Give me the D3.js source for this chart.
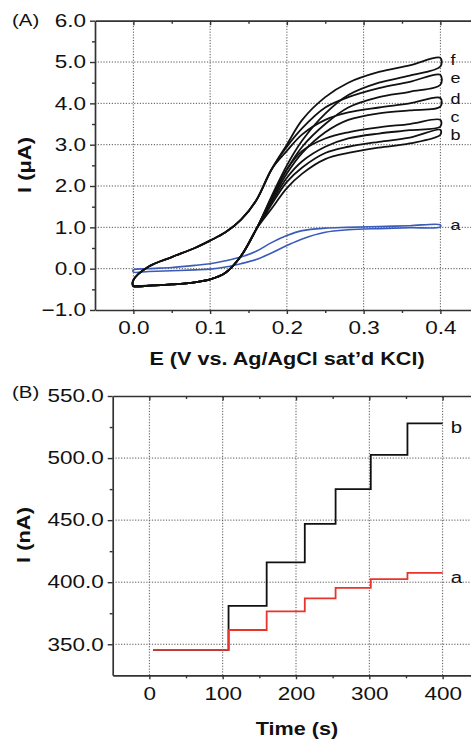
<!DOCTYPE html>
<html>
<head>
<meta charset="utf-8">
<script src="https://cdn.jsdelivr.net/npm/d3@7"></script>
<style>
  body { margin: 0; background: #fff; }
  svg { display: block; font-family: Arial, "Liberation Sans", sans-serif; }
</style>
</head>
<body>
<svg id="chart" width="471" height="740"></svg>
<script>
// ---- panel A : cyclic voltammograms ----
const potential = [0, 0.02, 0.05, 0.08, 0.10, 0.12, 0.14, 0.16, 0.18, 0.20, 0.22, 0.25, 0.28, 0.32, 0.36, 0.40];

const aUpper = [-0.03, 0.00, 0.03, 0.08, 0.12, 0.19, 0.28, 0.42, 0.63, 0.80, 0.92, 0.98, 1.00, 1.02, 1.04, 1.06];
const aLower = [-0.08, -0.07, -0.05, -0.03, -0.01, 0.04, 0.12, 0.22, 0.38, 0.56, 0.72, 0.88, 0.94, 0.97, 0.99, 1.01];
const bUpper = [-0.42, -0.41, -0.38, -0.33, -0.26, -0.10, 0.30, 0.95, 1.55, 2.10, 2.45, 2.80, 2.95, 3.07, 3.17, 3.36];
const bLower = [-0.42, -0.41, -0.38, -0.33, -0.26, -0.10, 0.30, 0.95, 1.45, 1.95, 2.30, 2.65, 2.80, 2.93, 3.03, 3.24];
const cUpper = [-0.42, -0.41, -0.38, -0.33, -0.26, -0.10, 0.30, 0.95, 1.70, 2.40, 2.85, 3.15, 3.30, 3.42, 3.50, 3.60];
const cLower = [-0.42, -0.41, -0.38, -0.33, -0.26, -0.10, 0.30, 0.95, 1.60, 2.20, 2.60, 2.95, 3.15, 3.27, 3.35, 3.44];
const dUpper = [-0.28, 0.05, 0.28, 0.50, 0.68, 0.88, 1.18, 1.65, 2.40, 2.85, 3.25, 3.60, 3.78, 3.90, 4.00, 4.13];
const dLower = [-0.42, -0.41, -0.38, -0.33, -0.26, -0.10, 0.30, 0.95, 1.65, 2.30, 2.80, 3.30, 3.60, 3.76, 3.83, 3.92];
const eUpper = [-0.28, 0.05, 0.28, 0.50, 0.68, 0.88, 1.18, 1.65, 2.40, 2.95, 3.40, 3.90, 4.15, 4.37, 4.52, 4.69];
const eLower = [-0.42, -0.41, -0.38, -0.33, -0.26, -0.10, 0.30, 0.95, 1.70, 2.40, 2.95, 3.50, 3.90, 4.15, 4.28, 4.45];
const fUpper = [-0.28, 0.05, 0.28, 0.50, 0.68, 0.88, 1.18, 1.65, 2.40, 3.00, 3.60, 4.15, 4.50, 4.76, 4.92, 5.10];
const fLower = [-0.42, -0.41, -0.38, -0.33, -0.26, -0.10, 0.30, 0.95, 1.75, 2.50, 3.10, 3.75, 4.20, 4.50, 4.67, 4.89];

const cvNames = ['a', 'b', 'c', 'd', 'e', 'f'];
const cvLabelY = [0.94, 3.12, 3.56, 3.98, 4.50, 4.92];

const xTicksA = [0, 0.1, 0.2, 0.3, 0.4];
const xMinorA = [0.05, 0.15, 0.25, 0.35];
const yTicksA = [-1, 0, 1, 2, 3, 4, 5, 6];
const yMinorA = [-0.5, 0.5, 1.5, 2.5, 3.5, 4.5, 5.5];

// ---- panel B : amperometric steps ----
const stepTimes = [5, 108, 160, 212, 254, 302, 352, 400];
const currentA = [345.5, 361.5, 376.5, 387, 395.5, 402.5, 407.5];
const currentB = [345.5, 381, 416, 447, 475, 502.5, 528];
const stepNames = ['a', 'b'];
const stepLabelY = [399, 520];

const xTicksB = [0, 100, 200, 300, 400];
const xMinorB = [50, 150, 250, 350];
const yTicksB = [350, 400, 450, 500, 550];
const yMinorB = [375, 425, 475, 525];

const svg = d3.select('#chart');

const xA = d3.scaleLinear().domain([-0.05, 0.45]).range([95, 478.75]);
const yA = d3.scaleLinear().domain([-1, 6]).range([310, 20.7]);
const xB = d3.scaleLinear().domain([-50, 450]).range([112.7, 479.3]);
const yB = d3.scaleLinear().domain([325, 550]).range([675.3, 396]);

function grid(g, x, y, xt, yt) {
  const [y0, y1] = y.range();
  const [x0, x1] = x.range();
  g.selectAll('.vg').data(xt).join('line')
    .attr('x1', d => x(d)).attr('x2', d => x(d))
    .attr('y1', y0).attr('y2', y1);
  g.selectAll('.hg').data(yt).join('line')
    .attr('x1', x0).attr('x2', x1)
    .attr('y1', d => y(d)).attr('y2', d => y(d));
  g.selectAll('line')
    .attr('stroke', '#555').attr('stroke-width', 1)
    .attr('stroke-dasharray', '1.2,1.6');
}

function styleAxis(g) {
  g.attr('font-family', null).attr('font-size', null);
  g.select('.domain').attr('stroke', '#333').attr('stroke-width', 1.7);
  g.selectAll('.tick line').attr('stroke', '#333').attr('stroke-width', 1.4);
  g.selectAll('.tick text')
    .attr('fill', '#111').attr('font-size', 18)
    .attr('transform', 'scale(1.25,1)');
}

function frame(x, y, xt, xm, yt, ym, xFmt, yFmt) {
  const [yb, yt0] = y.range();
  const [xl] = x.range();
  // minor ticks
  svg.append('g').attr('transform', `translate(${xl},0)`)
    .call(d3.axisLeft(y).tickValues(ym).tickSize(3).tickFormat(''))
    .call(g => g.select('.domain').remove()).call(styleAxis);
  svg.append('g').attr('transform', `translate(0,${yb})`)
    .call(d3.axisBottom(x).tickValues(xm).tickSize(3).tickFormat(''))
    .call(g => g.select('.domain').remove()).call(styleAxis);
  svg.append('g').attr('transform', `translate(0,${yt0})`)
    .call(d3.axisTop(x).tickValues(xm).tickSize(-3).tickFormat(''))
    .call(g => g.select('.domain').remove()).call(styleAxis);
  // major
  svg.append('g').attr('transform', `translate(0,${yt0})`)
    .call(d3.axisTop(x).tickValues(xt).tickSize(-4.5).tickSizeOuter(0).tickFormat(''))
    .call(styleAxis);
  svg.append('g').attr('transform', `translate(0,${yb})`)
    .call(d3.axisBottom(x).tickValues(xt).tickSize(4).tickSizeOuter(0).tickPadding(7.5).tickFormat(xFmt))
    .call(styleAxis);
  svg.append('g').attr('transform', `translate(${xl},0)`)
    .call(d3.axisLeft(y).tickValues(yt).tickSize(5).tickSizeOuter(0).tickPadding(2.2).tickFormat(yFmt))
    .call(styleAxis);
}

function label(text, x, y, opts = {}) {
  return svg.append('text')
    .attr('transform', `translate(${x},${y}) ${opts.rotate ? 'rotate(-90)' : ''} scale(${opts.sx || 1.2},1)`)
    .attr('font-size', opts.size || 17)
    .attr('font-weight', opts.bold ? 'bold' : null)
    .attr('text-anchor', opts.anchor || 'start')
    .attr('fill', '#111')
    .text(text);
}

// ---------- Panel A ----------
grid(svg.append('g'), xA, yA, xTicksA, [0, 1, 2, 3, 4, 5]);

const cvLoops = [
  [aUpper, aLower], [bUpper, bLower], [cUpper, cLower],
  [dUpper, dLower], [eUpper, eLower], [fUpper, fLower]
];
const cvLine = d3.line()
  .x(d => xA(d[0])).y(d => yA(d[1]))
  .curve(d3.curveCatmullRomClosed.alpha(0.5));

const gCv = svg.append('g').attr('fill', 'none');
cvLoops.forEach(([up, lo], i) => {
  const pts = potential.map((e, k) => [e, up[k]])
    .concat(potential.map((e, k) => [e, lo[k]]).reverse());
  gCv.append('path')
    .attr('d', cvLine(pts))
    .attr('stroke', i === 0 ? '#3a5bb8' : '#111')
    .attr('stroke-width', i === 0 ? 1.6 : 1.8)
    .attr('stroke-linejoin', 'round');
});

frame(xA, yA, xTicksA, xMinorA, yTicksA, yMinorA, d3.format('.1f'), d3.format('.1f'));

cvNames.forEach((n, i) => label(n, xA(0.4) + 10, yA(cvLabelY[i]), { size: 15 }));

label('(A)', 12, 26);
label('I (\u03bcA)', 31, 165, { rotate: true, bold: true, size: 19, sx: 1.15, anchor: 'middle' });
label('E (V vs. Ag/AgCl sat\u2019d KCl)', 287, 365, { bold: true, size: 18, anchor: 'middle' });

// ---------- Panel B ----------
grid(svg.append('g'), xB, yB, xTicksB, [350, 400, 450, 500]);

const stepLine = d3.line()
  .x(d => xB(d[0])).y(d => yB(d[1]))
  .curve(d3.curveStepAfter);

function stepPoints(levels) {
  return stepTimes.map((t, i) => [t, levels[Math.min(i, levels.length - 1)]]);
}

const gSteps = svg.append('g').attr('fill', 'none').attr('stroke-width', 1.8);
gSteps.append('path').attr('d', stepLine(stepPoints(currentB))).attr('stroke', '#111');
gSteps.append('path').attr('d', stepLine(stepPoints(currentA))).attr('stroke', '#e8342b');

frame(xB, yB, xTicksB, xMinorB, yTicksB, yMinorB, d3.format('d'), d3.format('.1f'));

stepNames.forEach((n, i) => label(n, xB(400) + 8, yB(stepLabelY[i])));

label('(B)', 12, 398);
label('I (nA)', 30, 535, { rotate: true, bold: true, size: 19, sx: 1.15, anchor: 'middle' });
label('Time (s)', 297, 735, { bold: true, size: 18, anchor: 'middle' });
</script>
</body>
</html>
